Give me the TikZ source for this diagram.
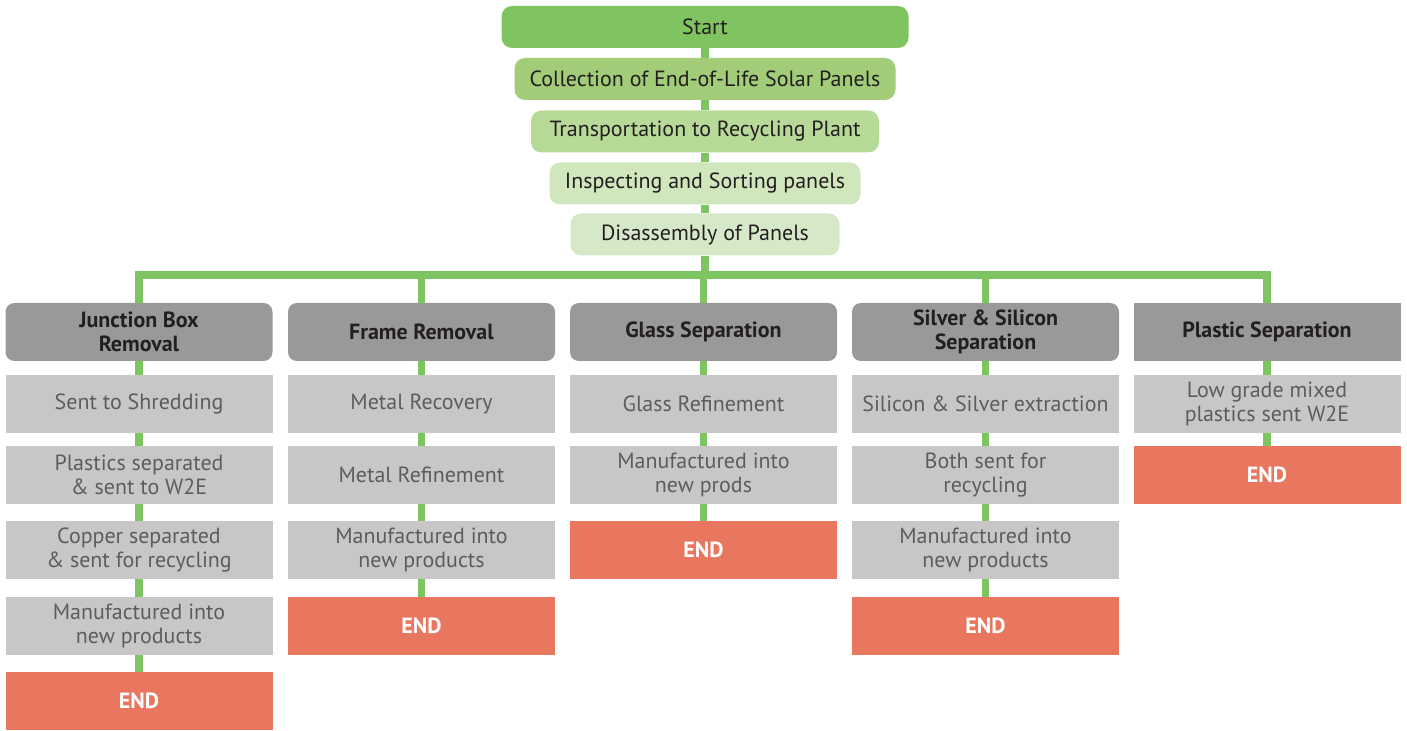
\documentclass[tikz,border=0pt]{standalone}
\usepackage{fontspec}
\setmainfont{PT Sans}
\usetikzlibrary{positioning}
\definecolor{startgreen}{HTML}{80C462}
\definecolor{collectgreen}{HTML}{A2CC78}
\definecolor{transgreen}{HTML}{B8DA98}
\definecolor{inspectgreen}{HTML}{D0E6BC}
\definecolor{disgreen}{HTML}{D5E9C8}
\definecolor{linkgreen}{HTML}{7EC463}
\definecolor{headgray}{HTML}{999A98}
\definecolor{subgray}{HTML}{C8C6C7}
\definecolor{endred}{HTML}{E9765E}
\definecolor{textdark}{HTML}{231F20}
\definecolor{subtext}{HTML}{5E5D5D}

\begin{document}
\begin{tikzpicture}[
    stage/.style={rectangle, rounded corners=6pt, minimum height=0.84cm, text=textdark, inner sep=1pt, font=\fontsize{12.5}{14}\selectfont},
    head/.style={rectangle, rounded corners=5pt, fill=headgray, minimum width=5.34cm, minimum height=1.16cm, text=textdark, align=center, inner sep=1pt, font=\fontsize{12.5}{13.6}\selectfont\bfseries},
    subbox/.style={rectangle, fill=subgray, minimum width=5.34cm, minimum height=1.16cm, text=subtext, align=center, inner sep=1pt, font=\fontsize{12.5}{13.8}\selectfont},
    endbox/.style={rectangle, fill=endred, minimum width=5.34cm, minimum height=1.16cm, text=white, inner sep=1pt, font=\fontsize{12.5}{14}\selectfont\bfseries},
    link/.style={draw=linkgreen, line width=4.5pt}
]
\useasboundingbox (0,0) rectangle (28.14,-14.62);

\node[stage, fill=startgreen, minimum width=8.14cm] (start) at (14.1,-0.54) {Start};
\node[stage, fill=collectgreen, minimum width=7.62cm] (collect) at (14.1,-1.58) {Collection of End-of-Life Solar Panels};
\node[stage, fill=transgreen, minimum width=6.96cm] (transport) at (14.1,-2.63) {Transportation to Recycling Plant};
\node[stage, fill=inspectgreen, minimum width=6.22cm] (inspect) at (14.1,-3.67) {Inspecting and Sorting panels};
\node[stage, fill=disgreen, minimum width=5.38cm] (disasm) at (14.1,-4.69) {Disassembly of Panels};
\coordinate (bus) at (14.1,-5.5);

\node[head] (jbox) at (2.78,-6.64) {Junction Box\\Removal};
\node[head] (frame) at (8.43,-6.64) {Frame Removal};
\node[head] (glass) at (14.07,-6.64) {Glass Separation};
\node[head] (silver) at (19.71,-6.64) {Silver \& Silicon\\Separation};
\node[head, rounded corners=0pt] (plastic) at (25.34,-6.64) {Plastic Separation};

\node[subbox] (shred) at (2.78,-8.08) {Sent to Shredding};
\node[subbox] (plsep) at (2.78,-9.5) {Plastics separated\\\& sent to W2E};
\node[subbox] (copper) at (2.78,-11.0) {Copper separated\\\& sent for recycling};
\node[subbox] (jbmanuf) at (2.78,-12.52) {Manufactured into\\new products};
\node[endbox] (jbend) at (2.78,-14.02) {END};

\node[subbox] (metalrec) at (8.43,-8.08) {Metal Recovery};
\node[subbox] (metalref) at (8.43,-9.5) {Metal Refinement};
\node[subbox] (frmanuf) at (8.43,-11.0) {Manufactured into\\new products};
\node[endbox] (frend) at (8.43,-12.52) {END};

\node[subbox] (glassref) at (14.07,-8.08) {Glass Refinement};
\node[subbox] (glmanuf) at (14.07,-9.5) {Manufactured into\\new prods};
\node[endbox] (glend) at (14.07,-11.0) {END};

\node[subbox] (extract) at (19.71,-8.08) {Silicon \& Silver extraction};
\node[subbox] (bothsent) at (19.71,-9.5) {Both sent for\\recycling};
\node[subbox] (simanuf) at (19.71,-11.0) {Manufactured into\\new products};
\node[endbox] (siend) at (19.71,-12.52) {END};

\node[subbox] (lowgrade) at (25.34,-8.08) {Low grade mixed\\plastics sent W2E};
\node[endbox] (plend) at (25.34,-9.5) {END};

\draw[link] (start) -- (collect);
\draw[link] (collect) -- (transport);
\draw[link] (transport) -- (inspect);
\draw[link] (inspect) -- (disasm);
\draw[link] (disasm) -- (bus);
\draw[link] (jbox.north) |- (bus) -| (plastic.north);
\draw[link] (frame.north) -- (frame.north |- bus);
\draw[link] (glass.north) -- (glass.north |- bus);
\draw[link] (silver.north) -- (silver.north |- bus);

\draw[link] (jbox) -- (shred);
\draw[link] (shred) -- (plsep);
\draw[link] (plsep) -- (copper);
\draw[link] (copper) -- (jbmanuf);
\draw[link] (jbmanuf) -- (jbend);

\draw[link] (frame) -- (metalrec);
\draw[link] (metalrec) -- (metalref);
\draw[link] (metalref) -- (frmanuf);
\draw[link] (frmanuf) -- (frend);

\draw[link] (glass) -- (glassref);
\draw[link] (glassref) -- (glmanuf);
\draw[link] (glmanuf) -- (glend);

\draw[link] (silver) -- (extract);
\draw[link] (extract) -- (bothsent);
\draw[link] (bothsent) -- (simanuf);
\draw[link] (simanuf) -- (siend);

\draw[link] (plastic) -- (lowgrade);
\draw[link] (lowgrade) -- (plend);
\end{tikzpicture}
\end{document}
